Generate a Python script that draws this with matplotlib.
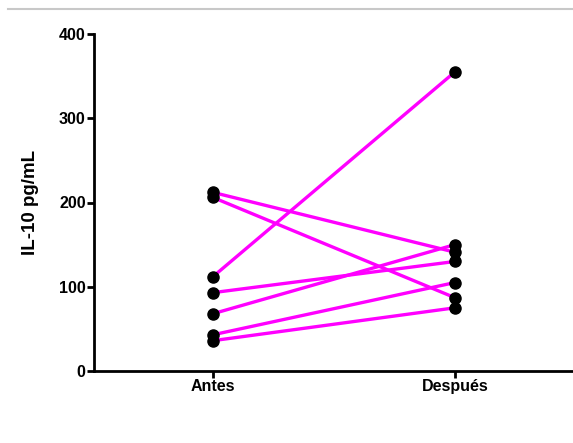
import matplotlib.pyplot as plt
from matplotlib.lines import Line2D

plt.rcParams['font.family'] = ['Liberation Sans', 'DejaVu Sans']

# Datos: IL-10 antes y después (pares por sujeto)
grupos = ["Antes", "Después"]
antes = [212, 206, 112, 93, 68, 43, 36]
despues = [141, 87, 355, 130, 150, 105, 75]
y_ticks = [0, 100, 200, 300, 400]

fig = plt.figure(figsize=(5.73, 4.43), dpi=100)
ax = fig.add_axes([94 / 573, 72 / 443, 479 / 573, 337 / 443])

# Linien je Sujeto
for a, d in zip(antes, despues):
    ax.plot([0, 1], [a, d], color="#FF00FF", lw=2.4, zorder=2,
            marker="o", markersize=8, markerfacecolor="black",
            markeredgecolor="black", clip_on=False)

ax.set_xlim(-0.4917, 1.488)
ax.set_ylim(0, 400)
ax.set_xticks([0, 1])
ax.set_xticklabels(grupos, fontweight="bold", fontsize=11.5)
ax.set_yticks(y_ticks)
ax.set_yticklabels([str(t) for t in y_ticks], fontweight="bold", fontsize=11.5)
ax.set_ylabel("IL-10 pg/mL", fontweight="bold", fontsize=13.5, labelpad=14)

ax.spines["top"].set_visible(False)
ax.spines["right"].set_visible(False)
ax.spines["left"].set_linewidth(2)
ax.spines["bottom"].set_linewidth(2)
ax.tick_params(axis="both", width=2, length=5, direction="out", pad=1)

# graue Linie oben
fig.add_artist(Line2D([8 / 573, 1], [1 - 9 / 443, 1 - 9 / 443],
                      color="#c8c8c8", lw=1.5))

plt.savefig("out.png", dpi=100)
plt.close()
